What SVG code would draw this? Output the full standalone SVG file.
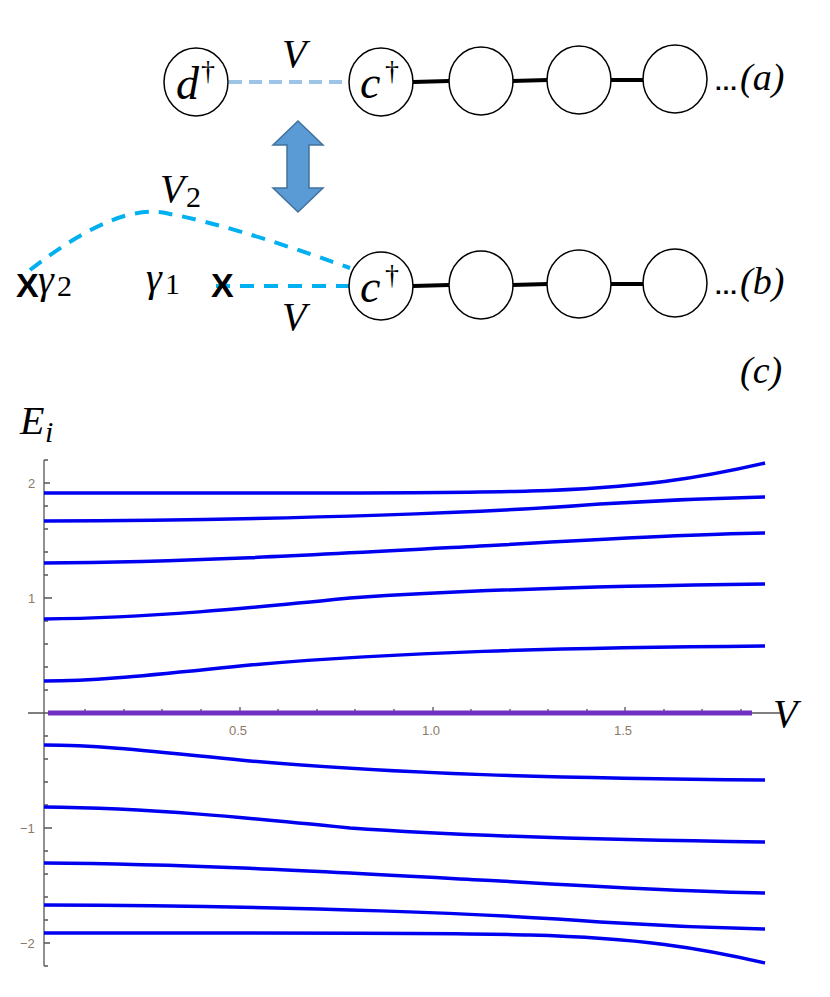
<svg xmlns="http://www.w3.org/2000/svg" width="830" height="997" viewBox="0 0 830 997">
<style>
.n{fill:#fff;stroke:#000;stroke-width:1.5}
.t{font-family:"Liberation Serif",serif;font-style:italic;fill:#000}
.s{font-family:"Liberation Serif",serif;fill:#000}
.x{font-family:"Liberation Sans",sans-serif;font-weight:bold;font-size:34px}
.b{stroke:#000;stroke-width:4}
.cv{fill:none;stroke:#0000f0;stroke-width:3.5}
.tk{stroke:#555;stroke-width:1.3}
.tl{font-family:"Liberation Sans",sans-serif;font-size:13px;fill:#8a7a6a}
</style>
<rect width="830" height="997" fill="#fff"/>
<g id="connectors">
<line x1="229" y1="82" x2="350" y2="82" stroke="#9dc3e6" stroke-width="4" stroke-dasharray="13,7"/>
<line class="b" x1="413" y1="82" x2="449" y2="81"/>
<line class="b" x1="512" y1="81" x2="548" y2="80"/>
<line class="b" x1="610" y1="80" x2="644" y2="80"/>
<line class="b" x1="413" y1="286" x2="449" y2="285"/>
<line class="b" x1="512" y1="285" x2="548" y2="284"/>
<line class="b" x1="610" y1="284" x2="644" y2="284"/>
<path d="M30,270 Q120,200 170,214 Q230,225 350,268" fill="none" stroke="#00b0f0" stroke-width="4" stroke-dasharray="14,10"/>
<line x1="216" y1="286" x2="350" y2="286" stroke="#00b0f0" stroke-width="4" stroke-dasharray="14,10"/>
<path d="M298,121 L323,145 L309,145 L309,188 L323,188 L298,212 L273,188 L287,188 L287,145 L273,145 Z" fill="#5b9bd5" stroke="#41719c" stroke-width="1.5"/>
</g>
<g id="d"><ellipse class="n" cx="196" cy="82" rx="32" ry="34"/><text class="t" x="176" y="99" font-size="46">d</text><text class="s" x="201" y="80" font-size="28">†</text></g>
<g id="c_a"><ellipse class="n" cx="381" cy="82" rx="32" ry="34"/><text class="t" x="360" y="98" font-size="46">c</text><text class="s" x="385" y="80" font-size="28">†</text></g>
<g id="a2"><ellipse class="n" cx="481" cy="81" rx="32" ry="34"/></g>
<g id="a3"><ellipse class="n" cx="579" cy="80" rx="32" ry="34"/></g>
<g id="a4"><ellipse class="n" cx="675" cy="79" rx="32" ry="34"/></g>
<text x="714" y="90" font-family="Liberation Sans,sans-serif" font-weight="bold" font-size="24">…</text>
<text class="t" x="740" y="90" font-size="38">(a)</text>
<text class="t" x="282" y="67" font-size="40">V</text>
<g id="c_b"><ellipse class="n" cx="381" cy="286" rx="32" ry="34"/><text class="t" x="360" y="302" font-size="46">c</text><text class="s" x="385" y="284" font-size="28">†</text></g>
<g id="b2"><ellipse class="n" cx="481" cy="285" rx="32" ry="34"/></g>
<g id="b3"><ellipse class="n" cx="579" cy="284" rx="32" ry="34"/></g>
<g id="b4"><ellipse class="n" cx="675" cy="283" rx="32" ry="34"/></g>
<text x="714" y="294" font-family="Liberation Sans,sans-serif" font-weight="bold" font-size="24">…</text>
<text class="t" x="740" y="294" font-size="38">(b)</text>
<text class="t" x="160" y="202" font-size="40">V</text><text class="s" x="186" y="207" font-size="30">2</text>
<text class="t" x="282" y="330" font-size="40">V</text>
<text class="x" x="16" y="297">X</text><text class="t" x="38" y="293" font-size="40">γ</text><text class="s" x="57" y="296" font-size="30">2</text>
<text class="t" x="146" y="291" font-size="40">γ</text><text class="s" x="165" y="294" font-size="30">1</text>
<text class="x" x="211" y="297">X</text>
<text class="t" x="740" y="383" font-size="38">(c)</text>
<text class="t" x="20" y="434" font-size="40">E</text><text class="t" x="45" y="442" font-size="30">i</text>
<text class="t" x="773" y="727" font-size="40">V</text>
<g id="axes">
<line class="tk" x1="44" y1="460" x2="44" y2="966"/>
<line class="tk" x1="28" y1="713" x2="780" y2="713"/>
<path class="tk" d="M44,483h6M44,598h8M44,828h8M44,943h6M44,506h4M44,529h4M44,552h4M44,575h4M44,621h4M44,644h4M44,667h4M44,690h4M44,736h4M44,759h4M44,782h4M44,805h4M44,851h4M44,874h4M44,897h4M44,920h4M44,460h4M44,966h4"/>
<path class="tk" d="M85,713v-4M124,713v-4M162,713v-4M201,713v-4M240,713v-6M278,713v-4M317,713v-4M355,713v-4M394,713v-4M433,713v-6M471,713v-4M510,713v-4M548,713v-4M587,713v-4M625,713v-6M664,713v-4M702,713v-4M741,713v-4"/>
<text class="tl" x="28" y="488">2</text><text class="tl" x="28" y="603">1</text>
<text class="tl" x="20" y="833">−1</text><text class="tl" x="20" y="948">−2</text>
<text class="tl" x="229" y="735">0.5</text><text class="tl" x="422" y="735">1.0</text><text class="tl" x="614" y="735">1.5</text>
</g>
<g id="curves">
<path class="cv" d="M44,493 C300,493 450,494 530,491 C640,488 700,478 765,463"/>
<path class="cv" d="M44,521 C300,520 500,512 600,504 C680,499 720,498 765,497"/>
<path class="cv" d="M44,563 C200,562 350,553 500,545 C620,538 700,534 765,533"/>
<path class="cv" d="M44,619 C150,618 250,608 350,598 C450,591 600,586 765,584"/>
<path class="cv" d="M44,681 C100,681 150,675 250,665 C400,652 550,648 765,646"/>
<path class="cv" d="M44,933 C300,933 450,932 530,935 C640,938 700,948 765,963"/>
<path class="cv" d="M44,905 C300,906 500,914 600,922 C680,927 720,928 765,929"/>
<path class="cv" d="M44,863 C200,864 350,873 500,881 C620,888 700,892 765,893"/>
<path class="cv" d="M44,807 C150,808 250,818 350,828 C450,835 600,840 765,842"/>
<path class="cv" d="M44,745 C100,745 150,751 250,761 C400,774 550,778 765,780"/>
<line x1="48" y1="713" x2="752" y2="713" stroke="#7030c0" stroke-width="5"/>
</g>
</svg>
